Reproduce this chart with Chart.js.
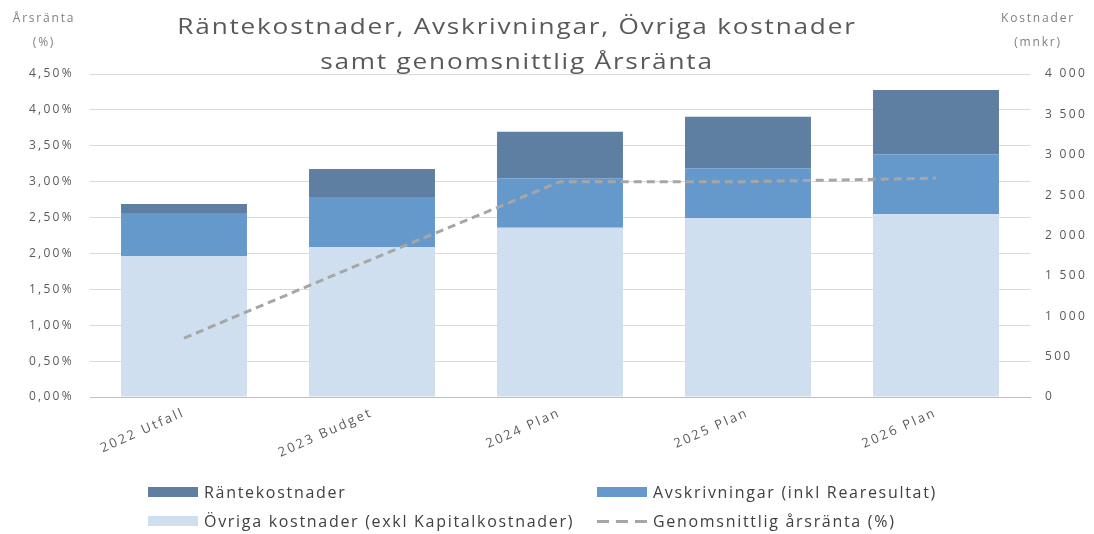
<!DOCTYPE html>
<html>
<head>
<meta charset="utf-8">
<script src="https://cdn.jsdelivr.net/npm/chart.js@4.4.1/dist/chart.umd.min.js"></script>
<style>
  html, body { margin: 0; padding: 0; background: #fff; }
  #wrap { position: relative; width: 1094px; height: 534px; font-family: "Open Sans", sans-serif; }
  #c { position: absolute; left: 0; top: 0; }
  .t { position: absolute; color: #595959; white-space: nowrap; }
  #title { left: 0; width: 1034px; top: 8px; text-align: center; font-size: 22px; line-height: 35px; letter-spacing: 1.5px; transform: scaleX(1.19); transform-origin: 517px 0; }
  .axt { font-size: 12px; line-height: 24px; text-align: center; color: #7f7f7f; letter-spacing: 1.8px; }
  .leg { position: absolute; display: flex; align-items: center; font-size: 16px; color: #404040; white-space: nowrap; letter-spacing: 1.7px; }
  .sw { width: 50px; height: 10px; margin-right: 6px; }
  .dash { width: 50px; height: 3px; margin-right: 6px; background: repeating-linear-gradient(to right, #a6a6a6 0 12px, transparent 12px 19px); }
</style>
</head>
<body>
<div id="wrap">
  <canvas id="c" width="1094" height="534"></canvas>
  <div class="t" id="title">Räntekostnader, Avskrivningar, Övriga kostnader<br>samt genomsnittlig Årsränta</div>
  <div class="t axt" style="left:3px; top:6px; width:82px;">Årsränta<br>(%)</div>
  <div class="t axt" style="left:997px; top:6px; width:82px;">Kostnader<br>(mnkr)</div>
  <div id="legend"></div>
</div>
<script>
const categories = ["2022 Utfall", "2023 Budget", "2024 Plan", "2025 Plan", "2026 Plan"];
const ovrigaKostnader = [1746, 1858, 2097, 2213, 2262];
const avskrivningar = [533, 620, 611, 619, 743];
const rantekostnader = [111, 346, 577, 639, 797];
const arsranta = [0.82, 1.92, 3.00, 3.00, 3.05];
const leftTickLabels = ["0,00%", "0,50%", "1,00%", "1,50%", "2,00%", "2,50%", "3,00%", "3,50%", "4,00%", "4,50%"];
const rightTickLabels = ["0", "500", "1 000", "1 500", "2 000", "2 500", "3 000", "3 500", "4 000"];

const colRanta = "#5e7fa2";
const colAvskr = "#6699cb";
const colOvriga = "#cfdff0";
const colLine = "#a6a6a6";

const tickFont = { family: "Open Sans", size: 12 };

// letter spacing for canvas text: y axes drawn before datasets, x axis (z:1) after
const spacingPlugin = {
  id: "spacing",
  beforeDraw(chart) { chart.ctx.letterSpacing = "2.3px"; },
  afterDatasetsDraw(chart) { chart.ctx.letterSpacing = "0.9px"; },
  afterDraw(chart) { chart.ctx.letterSpacing = "0px"; }
};

const chart = new Chart(document.getElementById("c"), {
  type: "bar",
  data: {
    labels: categories,
    datasets: [
      { label: "Övriga kostnader (exkl Kapitalkostnader)", data: ovrigaKostnader, backgroundColor: colOvriga, yAxisID: "y1", order: 1, categoryPercentage: 1, barPercentage: 0.67 },
      { label: "Avskrivningar (inkl Rearesultat)", data: avskrivningar, backgroundColor: colAvskr, yAxisID: "y1", order: 1, categoryPercentage: 1, barPercentage: 0.67 },
      { label: "Räntekostnader", data: rantekostnader, backgroundColor: colRanta, yAxisID: "y1", order: 1, categoryPercentage: 1, barPercentage: 0.67 },
      { type: "line", label: "Genomsnittlig årsränta (%)", data: arsranta, yAxisID: "y", borderColor: colLine, borderWidth: 3, borderDash: [8, 5], pointRadius: 0, fill: false, tension: 0, order: 0 }
    ]
  },
  plugins: [spacingPlugin],
  options: {
    responsive: false,
    animation: false,
    devicePixelRatio: 1,
    layout: { padding: { top: 74, left: 0, right: 0, bottom: 0 } },
    plugins: { legend: { display: false }, tooltip: { enabled: false }, title: { display: false } },
    scales: {
      x: {
        stacked: true,
        z: 1,
        grid: { display: false, drawTicks: false },
        border: { display: true, color: "#bfbfbf", width: 1 },
        ticks: { color: "#595959", font: { family: "Open Sans", size: 13 }, minRotation: 24, maxRotation: 24, padding: 8 },
        afterFit: (s) => { s.height = 137; }
      },
      y: {
        position: "left",
        min: 0, max: 4.5,
        grid: { color: "#d9d9d9", drawTicks: false },
        border: { display: false },
        ticks: { stepSize: 0.5, color: "#595959", font: tickFont, padding: 16,
          callback: (v, i) => leftTickLabels[i] },
        afterFit: (s) => { s.width = 90; }
      },
      y1: {
        position: "right",
        stacked: true,
        min: 0, max: 4000,
        grid: { drawOnChartArea: false, drawTicks: false },
        border: { display: false },
        ticks: { stepSize: 500, color: "#595959", font: tickFont, padding: 15,
          callback: (v, i) => rightTickLabels[i] },
        afterFit: (s) => { s.width = 64; }
      }
    }
  }
});

// HTML legend built from the chart's datasets
const legendLayout = [
  { ds: 2, left: 148, top: 481 },
  { ds: 1, left: 597, top: 481 },
  { ds: 0, left: 148, top: 510 },
  { ds: 3, left: 597, top: 510 }
];
const legendEl = document.getElementById("legend");
legendLayout.forEach(item => {
  const ds = chart.data.datasets[item.ds];
  const row = document.createElement("div");
  row.className = "leg";
  row.style.left = item.left + "px";
  row.style.top = item.top + "px";
  const sym = document.createElement("div");
  if (ds.type === "line") { sym.className = "dash"; }
  else { sym.className = "sw"; sym.style.background = ds.backgroundColor; }
  const txt = document.createElement("span");
  txt.textContent = ds.label;
  row.appendChild(sym); row.appendChild(txt);
  legendEl.appendChild(row);
});
</script>
</body>
</html>
